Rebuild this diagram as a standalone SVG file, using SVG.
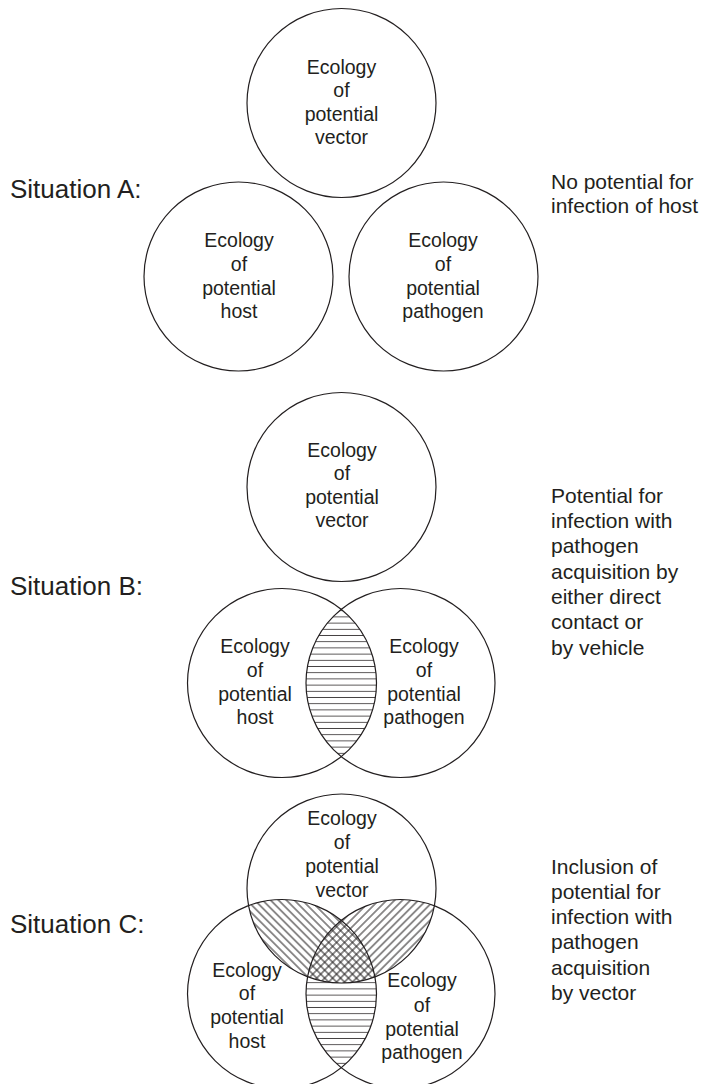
<svg xmlns="http://www.w3.org/2000/svg" width="703" height="1084" viewBox="0 0 703 1084">
<style>
.c{fill:none;stroke:#231f20;stroke-width:1.2}
.t{font-family:"Liberation Sans",Arial,sans-serif;font-size:19.5px;fill:#231f20;text-anchor:middle}
.r{font-family:"Liberation Sans",Arial,sans-serif;font-size:21px;fill:#231f20}
.s{font-family:"Liberation Sans",Arial,sans-serif;font-size:26px;fill:#231f20}
</style>
<defs>
<pattern id="hz" patternUnits="userSpaceOnUse" width="10" height="6.2"><line x1="0" y1="3.1" x2="10" y2="3.1" stroke="#231f20" stroke-width="0.8"/></pattern>
<pattern id="dR" patternUnits="userSpaceOnUse" width="10" height="5.6" patternTransform="rotate(45)"><line x1="-1" y1="2.8" x2="11" y2="2.8" stroke="#231f20" stroke-width="1"/></pattern>
<pattern id="dL" patternUnits="userSpaceOnUse" width="10" height="5.6" patternTransform="rotate(-45)"><line x1="-1" y1="2.8" x2="11" y2="2.8" stroke="#231f20" stroke-width="1"/></pattern>
<clipPath id="bH"><circle cx="282" cy="683" r="94.5"/></clipPath>
<clipPath id="bP"><circle cx="400.5" cy="683" r="94.5"/></clipPath>
<clipPath id="cV"><circle cx="341.5" cy="888.5" r="94.5"/></clipPath>
<clipPath id="cH"><circle cx="282" cy="994" r="94.5"/></clipPath>
<clipPath id="cP"><circle cx="400.5" cy="994" r="94.5"/></clipPath>
</defs>

<g id="labels">
<text class="s" x="10" y="198">Situation A:</text>
<text class="s" x="10" y="595">Situation B:</text>
<text class="s" x="10" y="933">Situation C:</text>
<text class="r" x="551"><tspan x="551" y="189">No potential for</tspan><tspan x="551" y="213">infection of host</tspan></text>
<text class="r" x="551"><tspan x="551" y="503">Potential for</tspan><tspan x="551" y="528">infection with</tspan><tspan x="551" y="553">pathogen</tspan><tspan x="551" y="579">acquisition by</tspan><tspan x="551" y="604">either direct</tspan><tspan x="551" y="629">contact or</tspan><tspan x="551" y="655">by vehicle</tspan></text>
<text class="r" x="551"><tspan x="551" y="874">Inclusion of</tspan><tspan x="551" y="899">potential for</tspan><tspan x="551" y="924">infection with</tspan><tspan x="551" y="949">pathogen</tspan><tspan x="551" y="975">acquisition</tspan><tspan x="551" y="1000">by vector</tspan></text>
</g>

<g id="hatching">
<g clip-path="url(#bH)"><g clip-path="url(#bP)"><rect x="180" y="580" width="320" height="210" fill="url(#hz)"/></g></g>
<g clip-path="url(#cH)"><g clip-path="url(#cP)"><rect x="180" y="880" width="320" height="210" fill="url(#hz)"/><circle cx="341.5" cy="888.5" r="94.5" fill="#ffffff"/></g></g>
<g clip-path="url(#cV)"><g clip-path="url(#cH)"><rect x="180" y="880" width="320" height="110" fill="url(#dR)"/></g></g>
<g clip-path="url(#cV)"><g clip-path="url(#cP)"><rect x="180" y="880" width="320" height="110" fill="url(#dL)"/></g></g>
</g>

<g id="A-vector"><circle class="c" cx="341.5" cy="103" r="94.5"/><text class="t"><tspan x="341.5" y="74">Ecology</tspan><tspan x="341.5" y="97.3">of</tspan><tspan x="341.5" y="120.7">potential</tspan><tspan x="341.5" y="144">vector</tspan></text></g>
<g id="A-host"><circle class="c" cx="238.5" cy="276.5" r="94.5"/><text class="t"><tspan x="239" y="247">Ecology</tspan><tspan x="239" y="270.5">of</tspan><tspan x="239" y="294.5">potential</tspan><tspan x="239" y="318">host</tspan></text></g>
<g id="A-pathogen"><circle class="c" cx="443.5" cy="276.5" r="94.5"/><text class="t"><tspan x="443" y="247">Ecology</tspan><tspan x="443" y="270.5">of</tspan><tspan x="443" y="294.5">potential</tspan><tspan x="443" y="318">pathogen</tspan></text></g>

<g id="B-vector"><circle class="c" cx="341.5" cy="487" r="94.5"/><text class="t"><tspan x="342" y="457">Ecology</tspan><tspan x="342" y="480">of</tspan><tspan x="342" y="503.5">potential</tspan><tspan x="342" y="527">vector</tspan></text></g>
<g id="B-host"><circle class="c" cx="282" cy="683" r="94.5"/><text class="t"><tspan x="255" y="653">Ecology</tspan><tspan x="255" y="677">of</tspan><tspan x="255" y="701">potential</tspan><tspan x="255" y="724">host</tspan></text></g>
<g id="B-pathogen"><circle class="c" cx="400.5" cy="683" r="94.5"/><text class="t"><tspan x="424" y="653">Ecology</tspan><tspan x="424" y="677">of</tspan><tspan x="424" y="701">potential</tspan><tspan x="424" y="724">pathogen</tspan></text></g>

<g id="C-vector"><circle class="c" cx="341.5" cy="888.5" r="94.5"/><text class="t"><tspan x="342" y="825">Ecology</tspan><tspan x="342" y="849">of</tspan><tspan x="342" y="873">potential</tspan><tspan x="342" y="897">vector</tspan></text></g>
<g id="C-host"><circle class="c" cx="282" cy="994" r="94.5"/><text class="t"><tspan x="247" y="977">Ecology</tspan><tspan x="247" y="1000">of</tspan><tspan x="247" y="1024">potential</tspan><tspan x="247" y="1048">host</tspan></text></g>
<g id="C-pathogen"><circle class="c" cx="400.5" cy="994" r="94.5"/><text class="t"><tspan x="422" y="987">Ecology</tspan><tspan x="422" y="1012">of</tspan><tspan x="422" y="1036">potential</tspan><tspan x="422" y="1059">pathogen</tspan></text></g>

<g id="connectors"/>
</svg>
